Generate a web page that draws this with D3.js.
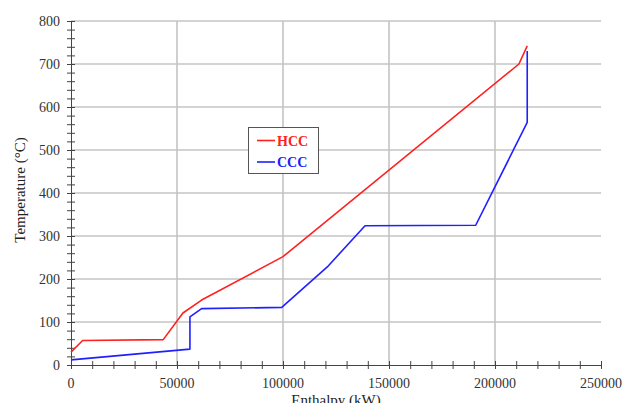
<!DOCTYPE html>
<html>
  <head>
    <meta charset="utf-8" />
    <title>Composite Curves</title>
    <script src="https://d3js.org/d3.v7.min.js"></script>
    <style>
      body { margin: 0; background: #fff; }
    </style>
  </head>
  <body>
    <svg id="viz"></svg>
    <script>

      // hot composite curve (enthalpy kW, temperature C)
      var hccH = [0, 5500, 43500, 52800, 61600, 100000, 211300, 215200];
      var hccT = [30, 57, 59, 121, 151, 252, 700, 742];

      // cold composite curve
      var cccH = [0, 56100, 56100, 61600, 99400, 120900, 138700, 190900, 215200, 215200];
      var cccT = [12, 37, 112, 131, 134, 228, 324, 325, 564, 730];

      var xTicks = [0, 50000, 100000, 150000, 200000, 250000];
      var yTicks = [0, 100, 200, 300, 400, 500, 600, 700, 800];
      var legendNames = ["HCC", "CCC"];
      var colors = ["#ff2020", "#2020ff"];

      var width = 623, height = 403;
      var svg = d3.select("#viz").attr("width", width).attr("height", height)
        .attr("font-family", "'Liberation Serif', 'DejaVu Serif', serif");

      var x = d3.scaleLinear().domain([0, 250000]).range([71, 601]);
      var y = d3.scaleLinear().domain([0, 800]).range([365, 21]);

      // grid
      svg.append("g").selectAll("line")
        .data(yTicks.slice(1))
        .enter().append("line")
        .attr("x1", x(0)).attr("x2", x(250000))
        .attr("y1", function(d) { return y(d); })
        .attr("y2", function(d) { return y(d); })
        .attr("stroke", "#c4c4c4").attr("stroke-width", 1.3);

      svg.append("g").selectAll("line")
        .data(xTicks.slice(1, 5))
        .enter().append("line")
        .attr("y1", y(0)).attr("y2", y(800))
        .attr("x1", function(d) { return x(d); })
        .attr("x2", function(d) { return x(d); })
        .attr("stroke", "#c4c4c4").attr("stroke-width", 1.6);

      // axes with crossing ticks
      var xAxis = d3.axisBottom(x).tickValues(d3.range(0, 250001, 10000))
        .tickSizeInner(4).tickSizeOuter(0).tickFormat("");
      var gx = svg.append("g").attr("transform", "translate(0," + y(0) + ")").call(xAxis);
      gx.selectAll(".tick line").attr("y1", -4);

      var yAxis = d3.axisLeft(y).tickValues(d3.range(0, 801, 20))
        .tickSizeInner(4).tickSizeOuter(0).tickFormat("");
      var gy = svg.append("g").attr("transform", "translate(" + x(0) + ",0)").call(yAxis);
      gy.selectAll(".tick line").attr("x1", 4);

      svg.selectAll(".domain, .tick line").attr("stroke", "#444").attr("stroke-width", 1);

      // tick labels
      svg.append("g").selectAll("text")
        .data(xTicks)
        .enter().append("text")
        .attr("x", function(d) { return x(d); })
        .attr("y", 388)
        .attr("text-anchor", "middle")
        .attr("font-size", 14)
        .attr("fill", "#333")
        .text(function(d) { return d; });

      svg.append("g").selectAll("text")
        .data(yTicks)
        .enter().append("text")
        .attr("x", 60)
        .attr("y", function(d) { return y(d) + 4.5; })
        .attr("text-anchor", "end")
        .attr("font-size", 14)
        .attr("fill", "#333")
        .text(function(d) { return d; });

      // titles
      svg.append("text")
        .attr("x", 336).attr("y", 405)
        .attr("text-anchor", "middle")
        .attr("font-size", 15).attr("fill", "#222")
        .text("Enthalpy (kW)");

      svg.append("text")
        .attr("transform", "translate(25,190) rotate(-90)")
        .attr("text-anchor", "middle")
        .attr("font-size", 15).attr("fill", "#222")
        .text("Temperature (°C)");

      // curves
      var line = d3.line()
        .x(function(d) { return x(d[0]); })
        .y(function(d) { return y(d[1]); });

      var curves = [d3.zip(hccH, hccT), d3.zip(cccH, cccT)];

      svg.append("g").selectAll("path")
        .data(curves)
        .enter().append("path")
        .attr("d", line)
        .attr("fill", "none")
        .attr("stroke", function(d, i) { return colors[i]; })
        .attr("stroke-width", 1.6)
        .attr("stroke-linejoin", "round");

      // legend
      var legend = svg.append("g");
      legend.append("rect")
        .attr("x", 248.5).attr("y", 127.5)
        .attr("width", 70).attr("height", 46)
        .attr("fill", "#fff").attr("stroke", "#555");

      var items = legend.selectAll("g.item")
        .data(legendNames)
        .enter().append("g")
        .attr("transform", function(d, i) { return "translate(0," + (140.5 + i * 21.5) + ")"; });

      items.append("line")
        .attr("x1", 257).attr("x2", 275)
        .attr("stroke", function(d, i) { return colors[i]; })
        .attr("stroke-width", 1.6);

      items.append("text")
        .attr("x", 277).attr("y", 5)
        .attr("font-size", 14).attr("font-weight", "bold")
        .attr("fill", function(d, i) { return colors[i]; })
        .text(function(d) { return d; });

    </script>
  </body>
</html>
